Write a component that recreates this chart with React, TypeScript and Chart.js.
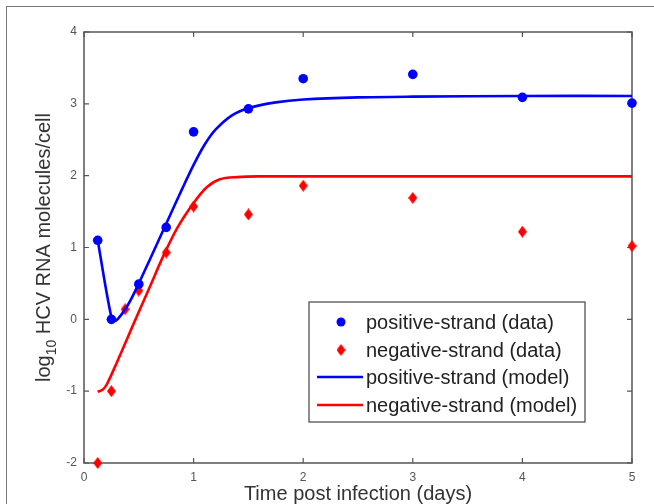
import React, { useEffect, useRef } from "react";
import { Chart, registerables } from "chart.js";

Chart.register(...registerables);

// ---- data ----
const posDays = [0.125, 0.25, 0.5, 0.75, 1, 1.5, 2, 3, 4, 5];
const posValues = [1.1, 0.0, 0.49, 1.28, 2.61, 2.93, 3.35, 3.41, 3.09, 3.01];

const negDays = [0.125, 0.25, 0.375, 0.5, 0.75, 1, 1.5, 2, 3, 4, 5];
const negValues = [-2.0, -1.0, 0.14, 0.4, 0.93, 1.57, 1.46, 1.86, 1.69, 1.22, 1.02];

const posModelDays = [0.125, 0.25, 0.29, 0.4, 0.5, 0.6, 0.75, 0.9, 1.0, 1.1, 1.2, 1.35, 1.5, 1.75, 2, 2.5, 3, 4, 5];
const posModelValues = [1.1, 0.03, -0.02, 0.2, 0.5, 0.83, 1.33, 1.83, 2.15, 2.43, 2.64, 2.84, 2.94, 3.02, 3.06, 3.09, 3.1, 3.11, 3.11];

const negModelDays = [0.125, 0.17, 0.21, 0.3, 0.45, 0.6, 0.72, 0.85, 1.0, 1.12, 1.24, 1.4, 1.6, 2, 3, 4, 5];
const negModelValues = [-1.01, -0.98, -0.9, -0.6, -0.07, 0.45, 0.87, 1.27, 1.62, 1.84, 1.95, 1.98, 1.99, 1.99, 1.99, 1.99, 1.99];

const xTicks = [0, 1, 2, 3, 4, 5];
const yTicks = [-2, -1, 0, 1, 2, 3, 4];

const legendLabels = [
  "positive-strand (data)",
  "negative-strand (data)",
  "positive-strand (model)",
  "negative-strand (model)",
];
const xTitle = "Time post infection (days)";
const yTitleMain = "log";
const yTitleSub = "10";
const yTitleRest = " HCV RNA molecules/cell";

const BLUE = "#0000ff";
const RED = "#ff0000";
const FONT = "'Liberation Sans', Arial, sans-serif";

function makeDiamond(w: number, h: number, color: string) {
  const c = document.createElement("canvas");
  c.width = w;
  c.height = h;
  const g = c.getContext("2d")!;
  g.fillStyle = color;
  g.beginPath();
  g.moveTo(w / 2, 0);
  g.lineTo(w, h / 2);
  g.lineTo(w / 2, h);
  g.lineTo(0, h / 2);
  g.closePath();
  g.fill();
  return c;
}

export default function App() {
  const ref = useRef<HTMLCanvasElement>(null);

  useEffect(() => {
    const canvas = ref.current;
    if (!canvas) return;
    const diamond = makeDiamond(9, 12, RED);

    const boxPlugin = {
      id: "box",
      beforeDatasetsDraw(chart: any) {
        const { ctx, chartArea: a, scales } = chart;
        ctx.save();
        ctx.strokeStyle = "#555";
        ctx.lineWidth = 1.5;
        ctx.strokeRect(a.left, a.top, a.right - a.left, a.bottom - a.top);
        ctx.lineWidth = 1.2;
        ctx.beginPath();
        const tl = 5;
        for (const v of xTicks) {
          const px = scales.x.getPixelForValue(v);
          ctx.moveTo(px, a.bottom);
          ctx.lineTo(px, a.bottom - tl);
          ctx.moveTo(px, a.top);
          ctx.lineTo(px, a.top + tl);
        }
        for (const v of yTicks) {
          const py = scales.y.getPixelForValue(v);
          ctx.moveTo(a.left, py);
          ctx.lineTo(a.left + tl, py);
          ctx.moveTo(a.right, py);
          ctx.lineTo(a.right - tl, py);
        }
        ctx.stroke();
        ctx.restore();
      },
      afterDraw(chart: any) {
        const { ctx, chartArea: a } = chart;
        ctx.save();
        ctx.fillStyle = "#333";
        // x title
        ctx.font = `20px ${FONT}`;
        ctx.textAlign = "center";
        ctx.textBaseline = "alphabetic";
        ctx.fillText(xTitle, (a.left + a.right) / 2, 500);
        // y title rotated
        ctx.translate(50, (a.top + a.bottom) / 2);
        ctx.rotate(-Math.PI / 2);
        ctx.font = `20px ${FONT}`;
        const w1 = ctx.measureText(yTitleMain).width;
        ctx.font = `14px ${FONT}`;
        const w2 = ctx.measureText(yTitleSub).width;
        ctx.font = `20px ${FONT}`;
        const w3 = ctx.measureText(yTitleRest).width;
        let x = -(w1 + w2 + w3) / 2;
        ctx.textAlign = "left";
        ctx.fillText(yTitleMain, x, 0);
        x += w1;
        ctx.font = `14px ${FONT}`;
        ctx.fillText(yTitleSub, x, 6);
        x += w2;
        ctx.font = `20px ${FONT}`;
        ctx.fillText(yTitleRest, x, 0);
        ctx.restore();

        // legend
        ctx.save();
        const lx = 309, ly = 302, lw = 276, lh = 120;
        ctx.fillStyle = "#fff";
        ctx.fillRect(lx, ly, lw, lh);
        ctx.strokeStyle = "#444";
        ctx.lineWidth = 1.2;
        ctx.strokeRect(lx, ly, lw, lh);
        const rows = [322, 350, 377, 405];
        ctx.font = `20px ${FONT}`;
        ctx.textBaseline = "middle";
        ctx.textAlign = "left";
        rows.forEach((ry, i) => {
          if (i === 0) {
            ctx.fillStyle = BLUE;
            ctx.beginPath();
            ctx.arc(341, ry, 4.5, 0, Math.PI * 2);
            ctx.fill();
          } else if (i === 1) {
            ctx.drawImage(diamond, 341 - 4.5, ry - 6);
          } else {
            ctx.strokeStyle = i === 2 ? BLUE : RED;
            ctx.lineWidth = 2.5;
            ctx.beginPath();
            ctx.moveTo(317, ry);
            ctx.lineTo(363, ry);
            ctx.stroke();
          }
          ctx.fillStyle = "#222";
          ctx.fillText(legendLabels[i], 366, ry + 1);
        });
        ctx.restore();
      },
    };

    const chart = new Chart(canvas, {
      type: "scatter",
      data: {
        datasets: [
          {
            label: legendLabels[0],
            data: posDays.map((d, i) => ({ x: d, y: posValues[i] })),
            pointStyle: "circle",
            pointRadius: 4.8,
            backgroundColor: BLUE,
            borderColor: BLUE,
            borderWidth: 0,
            showLine: false,
            clip: false,
            order: 2,
          } as any,
          {
            label: legendLabels[1],
            data: negDays.map((d, i) => ({ x: d, y: negValues[i] })),
            pointStyle: diamond,
            pointRadius: 6,
            backgroundColor: RED,
            borderColor: RED,
            borderWidth: 0,
            showLine: false,
            clip: false,
            order: 2,
          } as any,
          {
            label: legendLabels[2],
            data: posModelDays.map((d, i) => ({ x: d, y: posModelValues[i] })),
            showLine: true,
            pointRadius: 0,
            borderColor: BLUE,
            borderWidth: 2.6,
            tension: 0.3,
            order: 1,
          } as any,
          {
            label: legendLabels[3],
            data: negModelDays.map((d, i) => ({ x: d, y: negModelValues[i] })),
            showLine: true,
            pointRadius: 0,
            borderColor: RED,
            borderWidth: 2.6,
            tension: 0.3,
            order: 1,
          } as any,
        ],
      },
      options: {
        responsive: false,
        animation: false,
        events: [],
        layout: { padding: { top: 32, right: 22, left: 0, bottom: 0 } },
        plugins: {
          legend: { display: false },
          tooltip: { enabled: false },
          title: { display: false },
        },
        scales: {
          x: {
            type: "linear",
            min: 0,
            max: 5,
            border: { display: false },
            grid: { display: false, drawTicks: false },
            ticks: {
              stepSize: 1,
              padding: 7,
              color: "#555",
              font: { family: FONT, size: 12 },
            },
            afterFit: (s: any) => {
              s.height = 41;
            },
          },
          y: {
            type: "linear",
            min: -2,
            max: 4,
            border: { display: false },
            grid: { display: false, drawTicks: false },
            ticks: {
              stepSize: 1,
              padding: 7,
              color: "#555",
              font: { family: FONT, size: 12 },
            },
            afterFit: (s: any) => {
              s.width = 84;
            },
          },
        },
      },
      plugins: [boxPlugin],
    });
    return () => chart.destroy();
  }, []);

  return (
    <div style={{ position: "fixed", left: 0, top: 0, width: 654, height: 504, background: "#fff", overflow: "hidden" }}>
      <div
        style={{
          position: "absolute",
          left: 6,
          top: 6,
          width: 700,
          height: 600,
          borderLeft: "1.5px solid #777",
          borderTop: "1.5px solid #777",
        }}
      />
      <canvas ref={ref} width={654} height={504} style={{ position: "absolute", left: 0, top: 0 }} />
    </div>
  );
}
